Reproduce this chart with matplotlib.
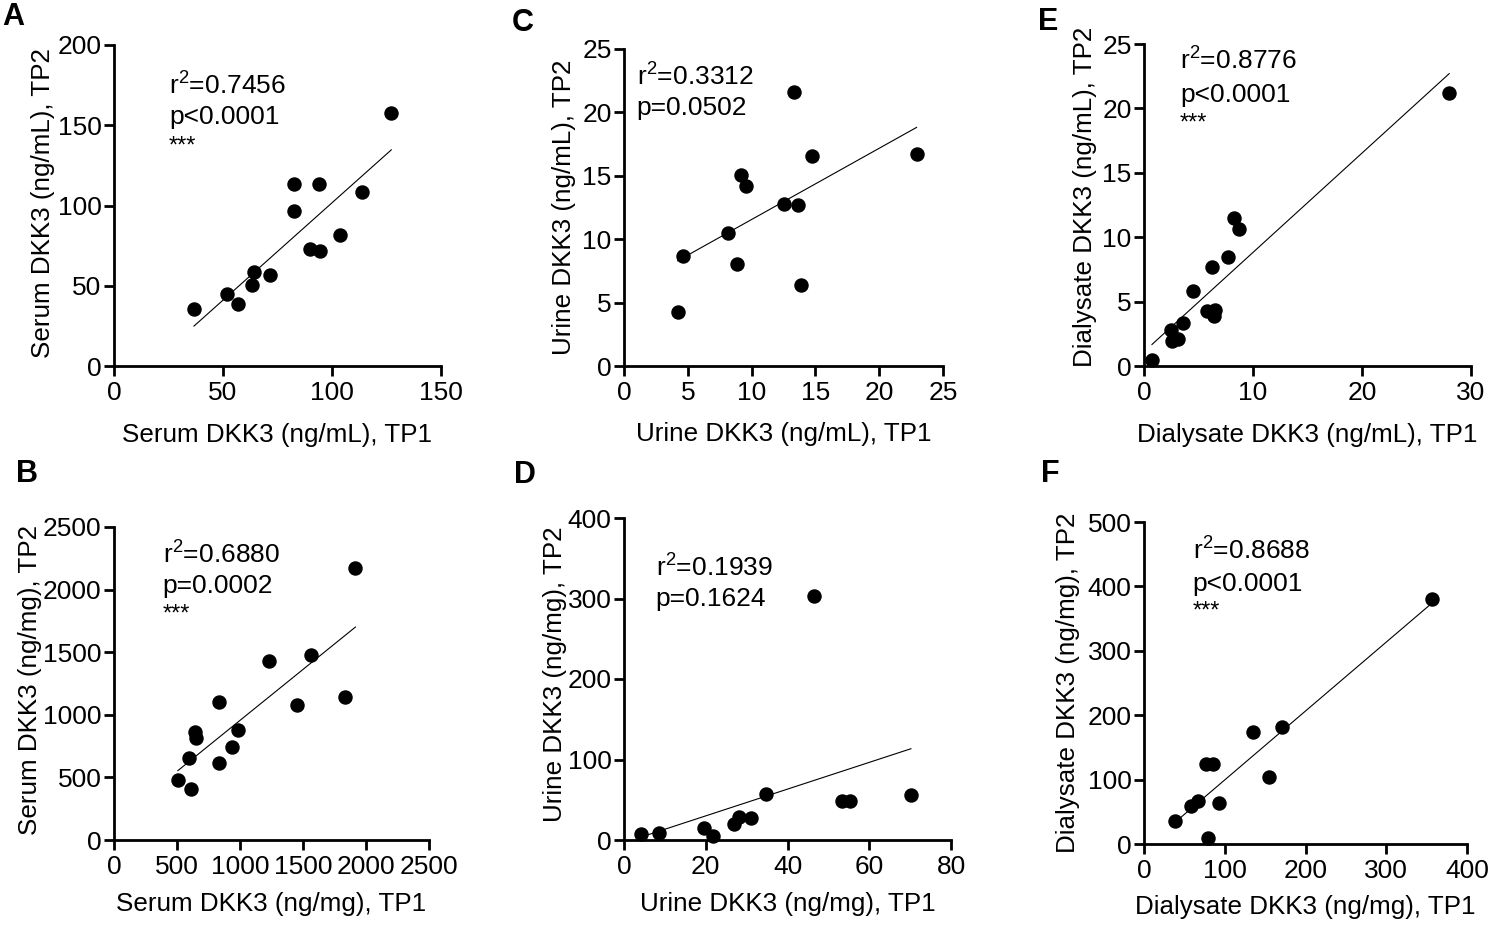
import numpy as np
import matplotlib
matplotlib.use("Agg")
import matplotlib.pyplot as plt

plt.rcParams['font.family'] = ['Liberation Sans', 'DejaVu Sans']
plt.rcParams['mathtext.default'] = 'regular'

# ---------------- data ----------------
a_x = [36.7, 51.9, 57.1, 63.1, 64.4, 71.6, 82.5, 82.6, 94.0, 90.0, 94.6, 103.8, 113.9, 127.2]
a_y = [35.3, 44.7, 38.6, 50.3, 58.4, 56.9, 96.4, 113.6, 113.6, 72.9, 71.8, 81.8, 108.2, 157.6]

c_x = [4.21, 4.63, 8.18, 8.84, 9.2, 9.59, 12.55, 13.62, 13.33, 13.88, 14.75, 22.93]
c_y = [4.26, 8.71, 10.47, 8.05, 15.05, 14.23, 12.79, 12.66, 21.6, 6.37, 16.6, 16.68]

e_x = [0.73, 2.45, 2.6, 3.09, 3.61, 4.53, 5.75, 6.43, 6.52, 6.21, 7.71, 8.29, 8.75, 28.0]
e_y = [0.49, 2.8, 1.97, 2.07, 3.34, 5.82, 4.27, 3.91, 4.35, 7.69, 8.44, 11.49, 10.66, 21.22]

b_x = [507, 610, 592, 640, 648, 835, 835, 933, 986, 1229, 1456, 1562, 1831, 1916]
b_y = [479, 410, 652, 862, 816, 612, 1101, 742, 880, 1431, 1075, 1479, 1139, 2170]

d_x = [4.15, 8.47, 19.55, 21.8, 26.8, 28.2, 31.1, 34.8, 46.5, 53.3, 55.2, 70.2]
d_y = [7.9, 9.1, 15.3, 5.0, 19.9, 28.2, 27.0, 56.8, 303.5, 48.9, 48.1, 56.0]

f_x = [38.8, 58.1, 66.4, 76.3, 85.0, 78.8, 92.8, 134.4, 155.0, 170.4, 356.3]
f_y = [36.2, 59.0, 66.8, 124.7, 123.7, 8.8, 63.7, 173.4, 103.5, 181.2, 381.0]

letters = ['A', 'C', 'E', 'B', 'D', 'F']
xlabels = ['Serum DKK3 (ng/mL), TP1', 'Urine DKK3 (ng/mL), TP1', 'Dialysate DKK3 (ng/mL), TP1',
           'Serum DKK3 (ng/mg), TP1', 'Urine DKK3 (ng/mg), TP1', 'Dialysate DKK3 (ng/mg), TP1']
ylabels = ['Serum DKK3 (ng/mL), TP2', 'Urine DKK3 (ng/mL), TP2', 'Dialysate DKK3 (ng/mL), TP2',
           'Serum DKK3 (ng/mg), TP2', 'Urine DKK3 (ng/mg), TP2', 'Dialysate DKK3 (ng/mg), TP2']
r2_texts = ['0.7456', '0.3312', '0.8776', '0.6880', '0.1939', '0.8688']
p_texts = ['p<0.0001', 'p=0.0502', 'p<0.0001', 'p=0.0002', 'p=0.1624', 'p<0.0001']
stars = ['***', '', '***', '***', '', '***']
xticks = [[0, 50, 100, 150], [0, 5, 10, 15, 20, 25], [0, 10, 20, 30],
          [0, 500, 1000, 1500, 2000, 2500], [0, 20, 40, 60, 80], [0, 100, 200, 300, 400]]
yticks = [[0, 50, 100, 150, 200], [0, 5, 10, 15, 20, 25], [0, 5, 10, 15, 20, 25],
          [0, 500, 1000, 1500, 2000, 2500], [0, 100, 200, 300, 400], [0, 100, 200, 300, 400, 500]]

xs = [a_x, c_x, e_x, b_x, d_x, f_x]
ys = [a_y, c_y, e_y, b_y, d_y, f_y]

# ---------------- layout (pixels) ----------------
W, H = 1489, 926
fig = plt.figure(figsize=(W / 100, H / 100), dpi=100)

rects = [(114, 45, 441, 366), (624, 49, 943, 366), (1144, 44, 1471, 366),
         (114, 527, 429, 840), (624, 518, 951, 840), (1144, 522, 1467, 844)]
letter_pos = [(2, 25), (512, 31), (1038, 30), (16, 482), (514, 483), (1041, 482)]
xlab_base = [442, 441, 442, 911, 911, 914]
ylab_pos = [(50, 203), (571, 207.5), (1092, 197), (37, 680), (561.7, 674), (1075, 683)]
ann_pos = [(0.168, 0.844, 0.753, 0.717), (0.040, 0.886, 0.792, None), (0.110, 0.919, 0.821, 0.787),
           (0.155, 0.882, 0.788, 0.754), (0.097, 0.818, 0.727, None), (0.151, 0.882, 0.787, 0.756)]

def fx(px):
    return px / W

def fy(py):
    return 1 - py / H

for i in range(6):
    l, t, r, b = rects[i]
    ax = fig.add_axes([fx(l), fy(b), (r - l) / W, (b - t) / H])
    x = np.array(xs[i], dtype=float)
    y = np.array(ys[i], dtype=float)
    ax.plot(x, y, 'o', color='black', markersize=9.4, zorder=3, clip_on=False)
    k, c0 = np.polyfit(x, y, 1)
    xl = np.array([x.min(), x.max()])
    ax.plot(xl, k * xl + c0, color='black', linewidth=0.8, zorder=2)

    ax.set_xlim(xticks[i][0], xticks[i][-1])
    ax.set_ylim(yticks[i][0], yticks[i][-1])
    ax.set_xticks(xticks[i])
    ax.set_yticks(yticks[i])
    for s in ['top', 'right']:
        ax.spines[s].set_visible(False)
    for s in ['left', 'bottom']:
        ax.spines[s].set_linewidth(2.0)
    ax.tick_params(direction='out', length=7.5, width=2.0, labelsize=19, color='black')
    ax.tick_params(axis='y', pad=1.5)
    ax.tick_params(axis='x', pad=3.5)

    ax.set_xlabel(xlabels[i], fontsize=18.7, va='baseline')
    ax.xaxis.set_label_coords(fx((l + r) / 2), fy(xlab_base[i]), transform=fig.transFigure)
    ax.set_ylabel(ylabels[i], fontsize=18.7, va='baseline')
    ax.yaxis.set_label_coords(fx(ylab_pos[i][0]), fy(ylab_pos[i][1]), transform=fig.transFigure)

    axp, yr, yp, ys_ = ann_pos[i]
    ax.text(axp, yr, r'r$^{2}$=' + r2_texts[i], transform=ax.transAxes, fontsize=19, va='baseline')
    ax.text(axp, yp, p_texts[i], transform=ax.transAxes, fontsize=19, va='baseline')
    if stars[i]:
        ax.text(axp, ys_, stars[i], transform=ax.transAxes, fontsize=17, va='top')

    fig.text(fx(letter_pos[i][0]), fy(letter_pos[i][1]), letters[i], fontsize=22,
             fontweight='bold', ha='left', va='baseline')

fig.savefig('out.png', dpi=100)
